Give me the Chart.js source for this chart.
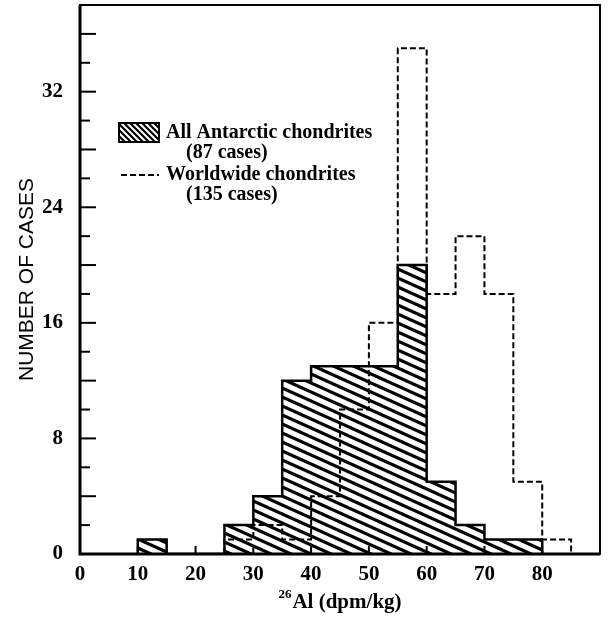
<!DOCTYPE html>
<html>
<head>
<meta charset="utf-8">
<script src="https://cdn.jsdelivr.net/npm/chart.js@4.4.0/dist/chart.umd.min.js"></script>
<style>
  html, body { margin: 0; padding: 0; background: #fff; }
  #wrap { width: 610px; height: 620px; }
</style>
</head>
<body>
<div id="wrap"><canvas id="histo"></canvas></div>
<script>
// 26Al histogram, bins 5 dpm/kg wide, counts
const binStarts = [10, 15, 20, 25, 30, 35, 40, 45, 50, 55, 60, 65, 70, 75, 80];
const antarctic = [1, 0, 0, 2, 4, 12, 13, 13, 13, 20, 5, 2, 1, 1, 0];
const worldwide = [0, 0, 0, 1, 2, 1, 4, 10, 16, 35, 18, 22, 18, 5, 1];
const binWidth = 5;
const xTickLabels = [0, 10, 20, 30, 40, 50, 60, 70, 80];
const yTickLabels = [0, 8, 16, 24, 32];
const antarcticLabel = ['All Antarctic chondrites', '(87 cases)'];
const worldwideLabel = ['Worldwide chondrites', '(135 cases)'];

// outline of a histogram as step points (value holds until next x)
function stepPoints(counts) {
  const first = counts.findIndex(c => c > 0);
  let last = counts.length - 1;
  while (counts[last] === 0) last--;
  const pts = [{x: binStarts[first], y: 0}];
  for (let i = first; i <= last; i++) pts.push({x: binStarts[i], y: counts[i]});
  pts.push({x: binStarts[last] + binWidth, y: 0});
  return pts;
}

function hatchPattern(w, h, lw) {
  const c = document.createElement('canvas');
  c.width = w; c.height = h;
  const g = c.getContext('2d');
  g.strokeStyle = '#000';
  g.lineWidth = lw;
  for (let k = -2; k <= 2; k++) {
    g.beginPath();
    g.moveTo(-w, -h + k * h);
    g.lineTo(2 * w, 2 * h + k * h);
    g.stroke();
  }
  return g.createPattern(c, 'repeat');
}

const serifBold = '"Liberation Serif", "Times New Roman", serif';

const decor = {
  id: 'decor',
  afterDatasetsDraw(chart) {
    const {ctx, chartArea: a, scales: {x, y}} = chart;
    ctx.save();
    ctx.strokeStyle = '#000';
    ctx.fillStyle = '#000';

    // inward ticks
    ctx.lineWidth = 2;
    y.ticks.forEach(t => {
      if (t.value <= y.min || t.value >= y.max) return;
      const py = y.getPixelForValue(t.value);
      const len = t.value % 4 === 0 ? 16 : 10;
      ctx.beginPath(); ctx.moveTo(a.left, py); ctx.lineTo(a.left + len, py); ctx.stroke();
    });
    x.ticks.forEach(t => {
      if (t.value <= x.min || t.value >= x.max) return;
      const px = x.getPixelForValue(t.value);
      ctx.beginPath(); ctx.moveTo(px, a.bottom); ctx.lineTo(px, a.bottom - 8); ctx.stroke();
    });

    // frame
    ctx.lineWidth = 2;
    ctx.strokeRect(a.left, a.top, a.width, a.height);
    ctx.lineWidth = 3;
    ctx.beginPath();
    ctx.moveTo(a.left, a.top); ctx.lineTo(a.left, a.bottom); ctx.lineTo(a.right, a.bottom);
    ctx.stroke();

    // legend
    const bx = a.left + 39, by = a.top + 118, bw = 40, bh = 19;
    ctx.save();
    ctx.beginPath(); ctx.rect(bx, by, bw, bh); ctx.clip();
    ctx.lineWidth = 2.2;
    for (let d = -bh; d < bw + bh; d += 6) {
      ctx.beginPath(); ctx.moveTo(bx + d, by); ctx.lineTo(bx + d + bh, by + bh); ctx.stroke();
    }
    ctx.restore();
    ctx.lineWidth = 2;
    ctx.strokeRect(bx, by, bw, bh);

    ctx.font = 'bold 20px ' + serifBold;
    ctx.textBaseline = 'middle';
    ctx.textAlign = 'left';
    ctx.fillText(antarcticLabel[0], a.left + 86, a.top + 128);
    ctx.fillText(antarcticLabel[1], a.left + 106, a.top + 148);
    ctx.fillText(worldwideLabel[0], a.left + 86, a.top + 170);
    ctx.fillText(worldwideLabel[1], a.left + 106, a.top + 190);
    ctx.lineWidth = 2;
    ctx.setLineDash([6, 3]);
    ctx.beginPath(); ctx.moveTo(a.left + 41, a.top + 170); ctx.lineTo(a.left + 79, a.top + 170); ctx.stroke();
    ctx.setLineDash([]);

    // x title with superscript mass number
    const supFont = 'bold 13px ' + serifBold, mainFont = 'bold 21px ' + serifBold;
    ctx.font = supFont; const ws = ctx.measureText('26').width + 1;
    ctx.font = mainFont; const wm = ctx.measureText('Al (dpm/kg)').width;
    const tx = (a.left + a.right) / 2 - (ws + wm) / 2, ty = 603;
    ctx.font = supFont; ctx.fillText('26', tx, ty - 8);
    ctx.font = mainFont; ctx.fillText('Al (dpm/kg)', tx + ws, ty);
    ctx.restore();
  }
};

new Chart(document.getElementById('histo'), {
  type: 'line',
  data: {
    datasets: [
      {
        label: worldwideLabel[0],
        data: stepPoints(worldwide),
        stepped: true,
        borderColor: '#000',
        borderWidth: 2,
        borderDash: [6, 3],
        pointRadius: 0,
        fill: false
      },
      {
        label: antarcticLabel[0],
        data: stepPoints(antarctic),
        stepped: true,
        borderColor: '#000',
        borderWidth: 2.5,
        pointRadius: 0,
        fill: 'origin',
        backgroundColor: hatchPattern(20, 9, 3.2)
      }
    ]
  },
  options: {
    animation: false,
    responsive: true,
    maintainAspectRatio: false,
    devicePixelRatio: 1,
    layout: { padding: { top: 5, right: 10, left: 0, bottom: 0 } },
    plugins: { legend: { display: false }, tooltip: { enabled: false } },
    scales: {
      x: {
        type: 'linear',
        min: 0, max: 90,
        grid: { display: false },
        border: { display: false },
        ticks: {
          stepSize: 10,
          padding: 0,
          color: '#000',
          font: { family: serifBold, size: 21, weight: 'bold' },
          callback: v => xTickLabels.includes(v) ? String(v) : ''
        },
        afterFit: s => { s.height = 66; s.paddingLeft = 0; s.paddingRight = 0; }
      },
      y: {
        min: 0, max: 38,
        grid: { display: false },
        border: { display: false },
        ticks: {
          stepSize: 2,
          padding: 9,
          color: '#000',
          font: { family: serifBold, size: 21, weight: 'bold' },
          callback: v => yTickLabels.includes(v) ? String(v) : ''
        },
        title: {
          display: true,
          text: 'NUMBER OF CASES',
          color: '#000',
          padding: { top: 15, bottom: 0 },
          font: { family: '"Liberation Sans", Arial, sans-serif', size: 21 }
        },
        afterFit: s => { s.width = 80; s.paddingTop = 0; s.paddingBottom = 0; }
      }
    }
  },
  plugins: [decor]
});
</script>
</body>
</html>
